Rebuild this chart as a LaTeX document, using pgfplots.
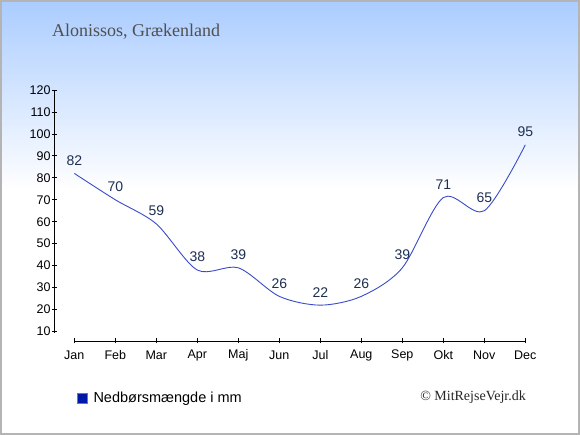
\documentclass[border=0pt]{standalone}
\usepackage{pgfplots}
\pgfplotsset{compat=1.18}
\usepackage{fontspec}
\setmainfont{Liberation Sans}
\newfontfamily\seriffont{Liberation Serif}
\definecolor{topblue}{RGB}{170,204,255}
\definecolor{lineblue}{RGB}{58,75,200}
\definecolor{labelcol}{RGB}{30,47,82}
\definecolor{legblue}{RGB}{0,24,168}
\definecolor{frame}{RGB}{180,180,180}
\definecolor{titlegray}{RGB}{80,80,80}
\begin{document}
\begin{tikzpicture}
\fill[white] (0pt,0pt) rectangle (580pt,435pt);
\shade[top color=topblue, bottom color=white] (0pt,245pt) rectangle (580pt,435pt);
\draw[frame, line width=2pt] (1pt,1pt) rectangle (579pt,434pt);
\node[anchor=west, inner sep=0pt, text=titlegray, font=\seriffont\fontsize{18}{20}\selectfont] at (52pt,403pt) {Alonissos, Grækenland};
\node[anchor=east, inner sep=0pt, text=black!85, font=\seriffont\fontsize{14}{16}\selectfont] at (526pt,38pt) {© MitRejseVejr.dk};
\begin{axis}[
  at={(54.3pt,94pt)}, anchor=south west,
  scale only axis, width=471pt, height=251pt,
  xmin=-0.488, xmax=11, ymin=5.67, ymax=120,
  axis lines=left,
  axis line style={draw=none},
  clip=false,
  xtick={0,...,11},
  xticklabels={Jan,Feb,Mar,Apr,Maj,Jun,Jul,Aug,Sep,Okt,Nov,Dec},
  ytick={10,20,...,120},
  tick align=center,
  major tick length=5pt,
  tick style={black, line width=0.8pt},
  /pgf/number format/assume math mode=true,
  tick label style={font=\fontsize{12.5}{14}\selectfont, text=black},
  xticklabel style={anchor=center, yshift=-12pt},
  yticklabel style={anchor=east, inner sep=0pt, xshift=-1pt},
  legend style={at={(0.048,-0.227)}, anchor=west, draw=none, fill=none,
    font=\fontsize{14.5}{16}\selectfont, inner sep=0pt, column sep=4pt},
]
\draw[black, line width=0.8pt] (axis cs:-0.488,9.4) -- (axis cs:-0.488,120);
\draw[black, line width=0.8pt] (axis cs:0,5.67) -- (axis cs:11,5.67);
\addplot[lineblue, line width=0.9pt, smooth, tension=0.5, forget plot,
  nodes near coords, point meta=y,
  every node near coord/.style={anchor=center, yshift=13pt, text=labelcol, font=\fontsize{14}{16}\selectfont}]
  coordinates {(0,82) (1,70) (2,59) (3,38) (4,39) (5,26) (6,22) (7,26) (8,39) (9,71) (10,65) (11,95)};
\addlegendimage{legend image code/.code={\draw[fill=legblue, draw=legblue!60] (0pt,-5pt) rectangle (10pt,5pt);}}
\addlegendentry{Nedbørsmængde i mm}
\end{axis}
\end{tikzpicture}
\end{document}
